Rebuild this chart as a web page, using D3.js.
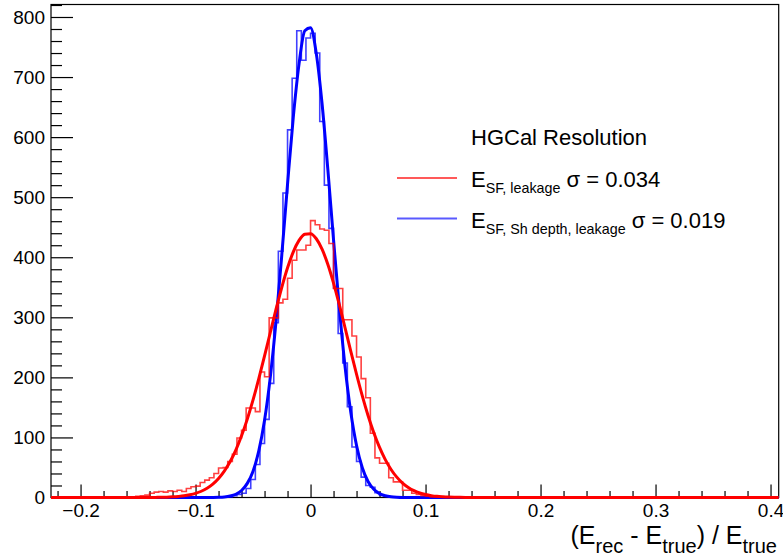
<!DOCTYPE html>
<html>
<head>
<meta charset="utf-8">
<script src="https://cdn.jsdelivr.net/npm/d3@7"></script>
<style>
  body { margin: 0; background: #fff; }
  svg { display: block; font-family: "Liberation Sans", Arial, Helvetica, sans-serif; }
</style>
</head>
<body>
<div id="chart"></div>
<script>
// Energy resolution of the calorimeter, two corrections compared
// Histograms have bins of 0.004, fits are read off the curves

const binWidth = 0.004;

// red : E_SF, leakage  (left edge of first bin, then counts)
const redStart = -0.156;
const redCounts = [1, 2, 3, 4, 7, 9, 10, 9, 11, 10, 12, 10, 15, 18, 19, 25,
    29, 33, 40, 49, 50, 60, 72, 99, 112, 149, 149, 143, 209, 201, 299, 299,
    324, 330, 365, 395, 412, 412, 420, 461, 454, 447, 445, 423, 348, 348,
    296, 296, 269, 234, 198, 166, 107, 66, 57, 57, 33, 26, 26, 12, 12, 7,
    5, 3, 2, 1, 1];

// blue : E_SF, Sh depth, leakage
const blueStart = -0.072;
const blueCounts = [1, 3, 5, 7, 15, 30, 55, 90, 130, 190, 291, 410, 507,
    612, 698, 777, 728, 765, 773, 740, 626, 520, 448, 349, 273, 224, 151,
    84, 60, 34, 20, 17, 8, 4, 2, 1];

// gaussian fits, sampled every 0.005
const redFitStart = -0.16;
const redFit = [0.01, 0.02, 0.03, 0.06, 0.1, 0.2, 0.4, 0.6, 1.1, 1.8, 2.8,
    4.5, 6.9, 10.4, 15.4, 22.3, 31.7, 43.9, 59.5, 79.0, 102.7, 130.5, 162.4,
    197.8, 235.6, 274.7, 313.5, 350.0, 382.4, 409.0, 428.0, 438.3, 439.2,
    430.8, 413.4, 388.3, 356.9, 321.0, 282.6, 243.4, 205.2, 169.2, 136.6,
    107.9, 83.4, 63.1, 46.7, 33.9, 24.0, 16.7, 11.3, 7.5, 4.9, 3.1, 1.9, 1.2,
    0.7, 0.4, 0.25, 0.15, 0.08];

const blueFitStart = -0.09;
const blueFit = [0.05, 0.15, 0.4, 1.0, 2.4, 5.4, 11.7, 23.5, 43.9, 77.6,
    128.6, 200.5, 293.5, 403.8, 521.6, 633.1, 721.9, 777, 782, 739, 656, 547,
    429, 316, 218, 142, 86.6, 49.6, 26.7, 13.6, 6.4, 2.9, 1.2, 0.45, 0.17];

const xMajor = [-0.2, -0.1, 0, 0.1, 0.2, 0.3, 0.4];
const yMajor = [0, 100, 200, 300, 400, 500, 600, 700, 800];

const legendTitle = "HGCal Resolution";
const legendRows = [
    { sub: "SF, leakage", sigma: "0.034", color: "red" },
    { sub: "SF, Sh depth, leakage", sigma: "0.019", color: "blue" }
];

let width = 783,
    height = 558,
    margin = ({ top: 4.5, right: 4.3, bottom: 60.5, left: 51 });

const svg = d3.select("#chart")
    .append("svg")
    .attr("width", width)
    .attr("height", height);

let x = d3.scaleLinear()
    .domain([-0.2257, 0.4071])
    .range([margin.left, width - margin.right]);

let y = d3.scaleLinear()
    .domain([0, 820.8])
    .range([height - margin.bottom, margin.top]);

// frame
svg.append("rect")
    .attr("x", margin.left)
    .attr("y", margin.top)
    .attr("width", width - margin.right - margin.left)
    .attr("height", height - margin.bottom - margin.top)
    .attr("fill", "none")
    .attr("stroke", "black")
    .attr("stroke-width", 1.2);

// x axis, major + minor ticks pointing up
const xMinor = d3.range(-22, 41, 2).map(v => v / 100).filter(v => xMajor.indexOf(v) < 0);

svg.append("g")
    .attr("transform", `translate(0,${height - margin.bottom})`)
    .call(d3.axisBottom(x).tickValues(xMinor).tickSize(-6.5).tickFormat(""))
    .call(g => g.select(".domain").remove());

svg.append("g")
    .attr("class", "x-axis")
    .attr("transform", `translate(0,${height - margin.bottom})`)
    .call(d3.axisBottom(x).tickValues(xMajor).tickSize(-13).tickPadding(6)
        .tickFormat(d => d === 0 ? "0" : d3.format(".1f")(d)))
    .call(g => g.select(".domain").remove())
    .style("font-size", "19px")
    .style("font-family", "inherit");

// y axis
const yMinor = d3.range(0, 821, 20).filter(v => v % 100 !== 0);

svg.append("g")
    .attr("transform", `translate(${margin.left},0)`)
    .call(d3.axisLeft(y).tickValues(yMinor).tickSize(-11).tickFormat(""))
    .call(g => g.select(".domain").remove());

svg.append("g")
    .attr("class", "y-axis")
    .attr("transform", `translate(${margin.left},0)`)
    .call(d3.axisLeft(y).tickValues(yMajor).tickSize(-22).tickPadding(6))
    .call(g => g.select(".domain").remove())
    .style("font-size", "19px")
    .style("font-family", "inherit");

svg.selectAll(".tick line").attr("stroke", "black").attr("stroke-width", 1.2);
svg.selectAll(".tick text").attr("fill", "black");

// histogram outline as steps
function steps(start, counts) {
    let pts = [[start, 0]];
    counts.forEach((c, i) => {
        pts.push([start + i * binWidth, c]);
        pts.push([start + (i + 1) * binWidth, c]);
    });
    pts.push([start + counts.length * binWidth, 0]);
    return pts;
}

function fitPoints(start, vals) {
    let pts = [[x.domain()[0], 0]];
    vals.forEach((v, i) => pts.push([start + i * 0.005, v]));
    pts.push([x.domain()[1], 0]);
    return pts;
}

const line = d3.line()
    .x(d => x(d[0]))
    .y(d => y(d[1]));

const smooth = d3.line()
    .x(d => x(d[0]))
    .y(d => y(d[1]))
    .curve(d3.curveMonotoneX);

svg.append("path")
    .attr("d", line(steps(blueStart, blueCounts)))
    .attr("fill", "none")
    .attr("stroke", "blue")
    .attr("stroke-opacity", 0.75)
    .attr("stroke-width", 1.6);

svg.append("path")
    .attr("d", smooth(fitPoints(blueFitStart, blueFit)))
    .attr("fill", "none")
    .attr("stroke", "blue")
    .attr("stroke-width", 3);

svg.append("path")
    .attr("d", line(steps(redStart, redCounts)))
    .attr("fill", "none")
    .attr("stroke", "red")
    .attr("stroke-opacity", 0.75)
    .attr("stroke-width", 1.6);

svg.append("path")
    .attr("d", smooth(fitPoints(redFitStart, redFit)))
    .attr("fill", "none")
    .attr("stroke", "red")
    .attr("stroke-width", 3);

// legend
svg.append("text")
    .attr("x", 471)
    .attr("y", 145)
    .style("font-size", "22px")
    .text(legendTitle);

legendRows.forEach((r, i) => {
    let ly = 178 + i * 40.5;
    svg.append("line")
        .attr("x1", 397).attr("x2", 457)
        .attr("y1", ly).attr("y2", ly)
        .attr("stroke", r.color)
        .attr("stroke-opacity", 0.65)
        .attr("stroke-width", 2);

    let t = svg.append("text")
        .attr("x", 471)
        .attr("y", ly + 9)
        .style("font-size", "22px");
    t.append("tspan").text("E");
    t.append("tspan").attr("dy", 6).style("font-size", "14.3px").text(r.sub);
    t.append("tspan").attr("dy", -6).text("\u00a0\u03c3 = " + r.sigma);
});

// x axis title (E_rec - E_true) / E_true
let xt = svg.append("text")
    .attr("text-anchor", "end")
    .attr("x", 777)
    .attr("y", 544)
    .style("font-size", "25px");
xt.append("tspan").text("(E");
xt.append("tspan").attr("dy", 9).style("font-size", "20px").text("rec");
xt.append("tspan").attr("dy", -9).text("\u00a0-\u00a0E");
xt.append("tspan").attr("dy", 9).style("font-size", "20px").text("true");
xt.append("tspan").attr("dy", -9).text(")\u00a0/\u00a0E");
xt.append("tspan").attr("dy", 9).style("font-size", "20px").text("true");
</script>
</body>
</html>
